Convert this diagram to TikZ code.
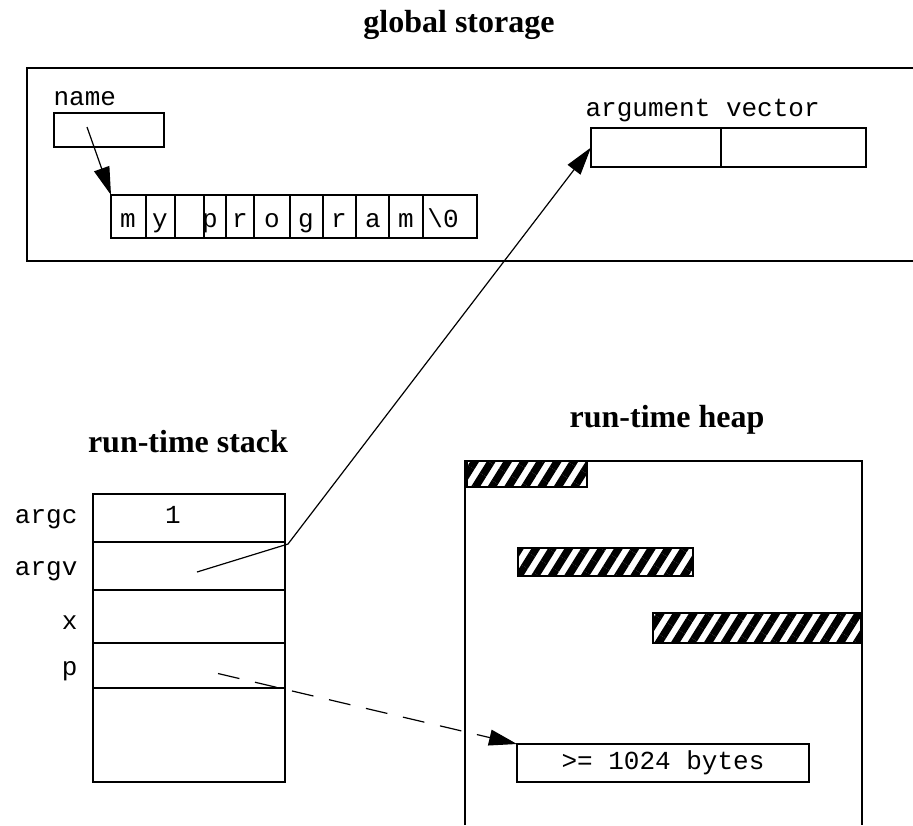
\documentclass[tikz,border=0pt]{standalone}
\usepackage{fontspec}
\setmainfont{Liberation Serif}
\setmonofont{Liberation Mono}
\usetikzlibrary{positioning,arrows.meta,calc,patterns.meta}
\tikzset{
mono/.style={
font=\ttfamily\fontsize{13}{15}\selectfont,
inner sep=0pt
},
title/.style={
font=\bfseries\fontsize{16}{19}\selectfont,
inner sep=0pt
},
cell/.style={
draw,
line width=0.6pt,
inner sep=0pt,
outer sep=0pt
},
stackrow/.style={
cell,
minimum width=96pt
},
block/.style={
cell,
pattern={Lines[angle=58,distance=7pt,line width=3.8pt]}
},
ptr/.style={
-{Triangle[length=14pt,width=8pt]},
line width=0.6pt
},
dashptr/.style={
ptr,
dash pattern=on 11pt off 8pt
}
}

\begin{document}
\begin{tikzpicture}[x=0.5pt,y=-0.5pt,line width=0.6pt]
\useasboundingbox (0,0) rectangle (913,825);

% global storage
\node[title,anchor=base](gtitle) at (459,32){global storage};
\draw (913,68) -- (27,68) -- (27,261) -- (913,261);

\node[cell,minimum width=55pt,minimum height=17pt](name) at (109,130){};
\node[mono,anchor=base west](namelbl) at (53,105){name};

\node[cell,minimum width=183pt,minimum height=21.5pt](str) at (294,216.5){};
\foreach \dx in {146,175,204,226,254,290,323,356,389,423}
  \draw ($(str.north west)+(\dx-111,0)$) -- ($(str.south west)+(\dx-111,0)$);
\foreach \lx/\ch in {128/m,160/y,210/p,240/r,272/o,306/g,339/r,373/a,406/m,443/{\textbackslash 0}}
  \node[mono,anchor=base](ch\lx) at (\lx,227){\ch};

\node[cell,minimum width=65pt,minimum height=19.5pt](av1) at (656,147.5){};
\node[cell,minimum width=72.5pt,minimum height=19.5pt,right=0pt of av1](av2){};
\node[mono,anchor=base west](avlbl) at ($(av1.north west)+(-6,-12)$){argument vector};

% run-time stack
\node[title,anchor=base](stitle) at (188,452){run-time stack};
\node[stackrow,minimum height=24pt](argc) at (189,518){};
\node[stackrow,minimum height=24pt,below=0pt of argc](argv){};
\node[stackrow,minimum height=26.5pt,below=0pt of argv](xrow){};
\node[stackrow,minimum height=22.5pt,below=0pt of xrow](prow){};
\node[stackrow,minimum height=47pt,below=0pt of prow](free){};

\node[mono,anchor=base east](argclbl) at ($(argc.west)+(-15,5)$){argc};
\node[mono,anchor=base east](argvlbl) at ($(argv.west)+(-15,9)$){argv};
\node[mono,anchor=base east](xlbl) at ($(xrow.west)+(-15,12.5)$){x};
\node[mono,anchor=base east](plbl) at ($(prow.west)+(-15,9.5)$){p};
\node[mono,anchor=base](one) at ($(argc.center)+(-16,5)$){1};

% run-time heap
\node[title,anchor=base](htitle) at (667,427){run-time heap};
\draw (465,825) -- (465,461) -- (862,461) -- (862,825);

\node[block,minimum width=60pt,minimum height=13pt](b1) at (527,474){};
\node[block,minimum width=87.5pt,minimum height=14pt](b2) at (605.5,562){};
\node[block,minimum width=104pt,minimum height=15pt](b3) at (757,628){};

\node[cell,mono,draw,minimum width=146pt,minimum height=19pt](bytes) at (663,763){>= 1024 bytes};

% pointers
\coordinate (namep) at ($(name.center)+(-22,-3)$);
\coordinate (argvp) at ($(argv.center)+(8,6)$);
\coordinate (bend) at ($(argv.north east)+(3,2)$);
\coordinate (pp) at ($(prow.center)+(29,8)$);

\draw[ptr](namep) -- (str.north west);
\draw[ptr](argvp) -- (bend) -- (av1.west);
\draw[dashptr](pp) -- (bytes.north west);
\end{tikzpicture}
\end{document}
